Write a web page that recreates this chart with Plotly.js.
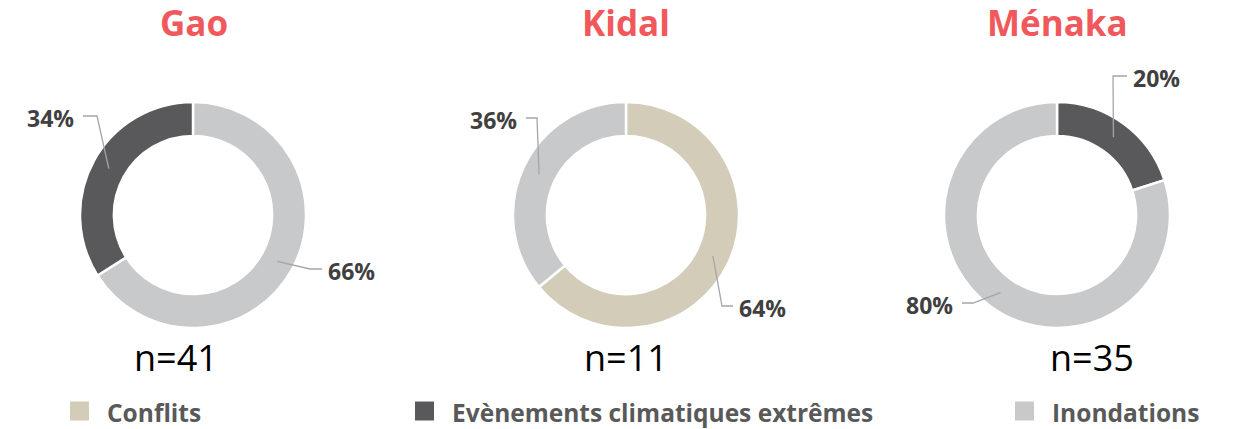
<!DOCTYPE html>
<html>
<head>
<meta charset="utf-8">
<script src="https://cdn.plot.ly/plotly-3.0.1.min.js"></script>
<style>html,body{margin:0;padding:0;background:#fff;}#chart{width:1243px;height:429px;}</style>
</head>
<body>
<div id="chart"></div>
<script>
// ---- data ----
const regions = ['Gao', 'Kidal', 'Ménaka'];
const sampleSizes = [41, 11, 35];
const gaoLabels = ['Inondations', 'Evènements climatiques extrêmes'];
const gaoValues = [66, 34];
const kidalLabels = ['Conflits', 'Inondations'];
const kidalValues = [64, 36];
const menakaLabels = ['Evènements climatiques extrêmes', 'Inondations'];
const menakaValues = [20, 80];
const legendCategories = ['Conflits', 'Evènements climatiques extrêmes', 'Inondations'];

// ---- styles / layout ----
const W = 1243, H = 429;
const FONT = 'Open Sans, Noto Sans, sans-serif';
const colorMap = {
  'Conflits': '#D3CCB9',
  'Evènements climatiques extrêmes': '#59595B',
  'Inondations': '#C8C9CB'
};
const HOLE = 0.70;
const donuts = [
  {labels: gaoLabels, values: gaoValues, cx: 193, cy: 215, r: 113, titleX: 194, nX: 176,
   lab: [{ex: 310, ey: 269, lx: 322, side: 'left'}, {ex: 97, ey: 116, lx: 83, side: 'right'}]},
  {labels: kidalLabels, values: kidalValues, cx: 626, cy: 215, r: 113, titleX: 626, nX: 626,
   lab: [{ex: 722, ey: 306, lx: 733, side: 'left'}, {ex: 537, ey: 118, lx: 526, side: 'right'}]},
  {labels: menakaLabels, values: menakaValues, cx: 1057, cy: 215, r: 113, titleX: 1057, nX: 1092,
   lab: [{ex: 1113, ey: 76, lx: 1127, side: 'left'}, {ex: 973, ey: 303, lx: 962, side: 'right'}]}
];
const legendPos = [{x: 70}, {x: 415}, {x: 1015}];
const legendY = 411, sq = 19;

const px = x => x / W;
const py = y => 1 - y / H;

const traces = [];
const annotations = [];
const shapes = [];

donuts.forEach((d, i) => {
  traces.push({
    type: 'pie',
    labels: d.labels,
    values: d.values,
    hole: HOLE,
    sort: false,
    direction: 'clockwise',
    rotation: 0,
    textinfo: 'none',
    hoverinfo: 'label+percent',
    showlegend: false,
    marker: {colors: d.labels.map(l => colorMap[l]), line: {color: '#ffffff', width: 2.5}},
    domain: {x: [px(d.cx - d.r), px(d.cx + d.r)], y: [py(d.cy + d.r), py(d.cy - d.r)]}
  });
  // title
  annotations.push({
    text: '<b>' + regions[i] + '</b>', xref: 'paper', yref: 'paper',
    x: px(d.titleX), y: py(23), xanchor: 'center', yanchor: 'middle', showarrow: false,
    font: {family: FONT, size: 35, color: '#F0585C'}
  });
  // n=
  annotations.push({
    text: 'n=' + sampleSizes[i], xref: 'paper', yref: 'paper',
    x: px(d.nX), y: py(357), xanchor: 'center', yanchor: 'middle', showarrow: false,
    font: {family: FONT, size: 36, color: '#000000'}
  });
  // data labels with leader lines
  const total = d.values.reduce((a, b) => a + b, 0);
  let cum = 0;
  d.values.forEach((v, j) => {
    const mid = (cum + v / 2) / total * 2 * Math.PI;
    cum += v;
    const rm = d.r * (1 + HOLE) / 2;
    const ax = d.cx + rm * Math.sin(mid);
    const ay = d.cy - rm * Math.cos(mid);
    const L = d.lab[j];
    shapes.push({
      type: 'path', xref: 'paper', yref: 'paper',
      path: 'M' + px(ax) + ',' + py(ay) + ' L' + px(L.ex) + ',' + py(L.ey) + ' L' + px(L.lx) + ',' + py(L.ey),
      line: {color: '#A5A5A5', width: 1.3}
    });
    annotations.push({
      text: '<b>' + Math.round(v / total * 100) + '%</b>', xref: 'paper', yref: 'paper',
      x: px(L.side === 'left' ? L.lx + 4 : L.lx - 7), y: py(L.ey + 2),
      xanchor: L.side, yanchor: 'middle', showarrow: false,
      font: {family: FONT, size: 23, color: '#404040'}
    });
  });
});

// legend
legendCategories.forEach((c, k) => {
  const x0 = legendPos[k].x;
  shapes.push({
    type: 'rect', xref: 'paper', yref: 'paper',
    x0: px(x0), x1: px(x0 + sq), y0: py(legendY + sq / 2), y1: py(legendY - sq / 2),
    fillcolor: colorMap[c], line: {width: 0}
  });
  annotations.push({
    text: '<b>' + c + '</b>', xref: 'paper', yref: 'paper',
    x: px(x0 + sq + 16), y: py(legendY + 1), xanchor: 'left', yanchor: 'middle', showarrow: false,
    font: {family: FONT, size: 24.5, color: '#595959'}
  });
});

const layout = {
  width: W, height: H,
  margin: {l: 0, r: 0, t: 0, b: 0},
  paper_bgcolor: '#ffffff',
  plot_bgcolor: '#ffffff',
  showlegend: false,
  annotations: annotations,
  shapes: shapes
};

Plotly.newPlot('chart', traces, layout, {displayModeBar: false, staticPlot: true});
</script>
</body>
</html>
